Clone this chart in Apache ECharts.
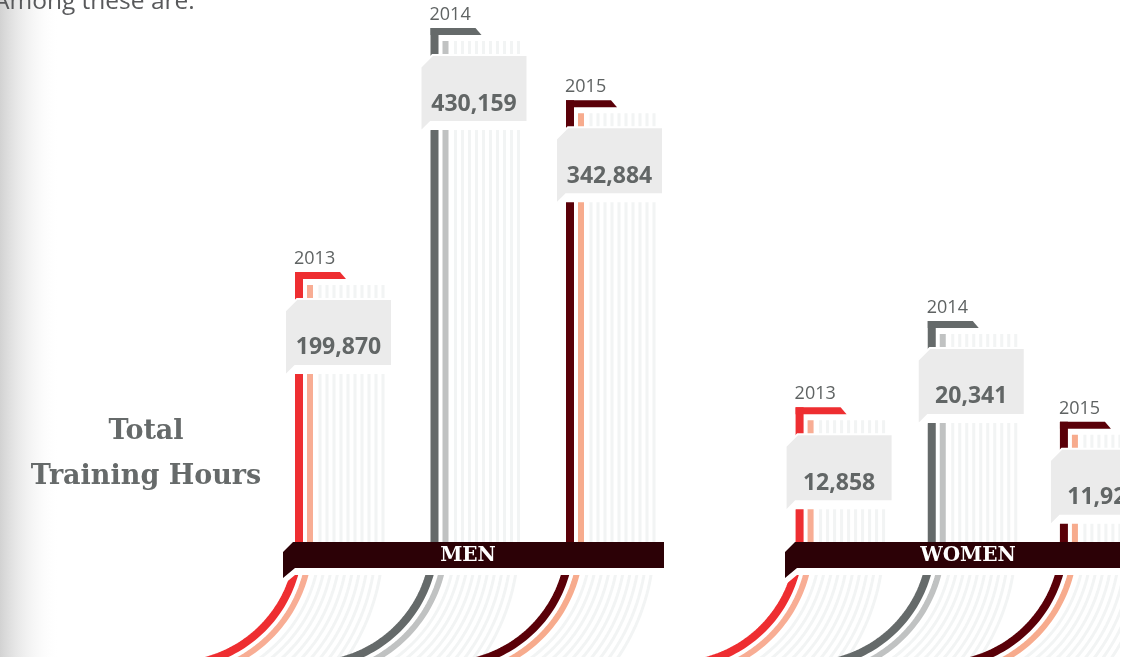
<!DOCTYPE html>
<html><head><meta charset="utf-8">
<script src="https://cdn.jsdelivr.net/npm/echarts@6/dist/echarts.min.js"></script>
<style>html,body{margin:0;padding:0;background:#fff}#c{width:1130px;height:657px}</style>
</head><body><div id="c"></div>
<script>
// ---- data ----
const years = ['2013', '2014', '2015'];
const menHours = [199870, 430159, 342884];
const womenHours = [12858, 20341, 11920];
const groupNames = ['MEN', 'WOMEN'];
const chartTitle = ['Total', 'Training Hours'];
const introText = 'Among these are:';

// ---- styles ----
const mainColors = ['#ee2e31', '#656a6a', '#5a0008'];
const secondColors = ['#f8ad94', '#c0c2c2', '#f7ab8d'];
const stripeColor = '#f2f4f4';
const boxColor = '#ebebeb';
const valueColor = '#626666';
const labelColor = '#666a6a';
const bannerColor = '#2c0106';
const MEN_RANGE = [84720, 469700];
const WOMEN_RANGE = [6194, 111700];

function fmt(v) { return v.toLocaleString('en-US'); }

function makeRender(yMin) {
  return function (params, api) {
    const i = api.value(0);
    const v = api.value(1);
    const p = api.coord([i, v]);
    const b = api.coord([i, yMin]);
    const xc = p[0];
    const T = p[1];
    const yc = b[1] - 5;
    const R = 125;
    const cx = xc - R;
    const x0 = xc - 4;
    const children = [];
    function line(d, yTop, w, color) {
      const x = xc + d;
      const r = R + d;
      const pts = [[x, yTop], [x, yc]];
      for (let k = 1; k <= 60; k++) {
        const t = k / 60 * Math.PI / 2;
        pts.push([cx + r * Math.cos(t), yc + r * Math.sin(t)]);
      }
      return { type: 'polyline', shape: { points: pts }, style: { stroke: color, lineWidth: w, fill: null, lineCap: 'butt' }, silent: true };
    }
    for (let k = 9; k >= 0; k--) children.push(line(21 + 7 * k, T + 13, 3, stripeColor));
    children.push(line(11, T + 13, 6, secondColors[i]));
    children.push(line(0, T, 8, mainColors[i]));
    children.push({ type: 'polygon', shape: { points: [[x0, T], [x0 + 45, T], [x0 + 51, T + 7], [x0, T + 7]] }, style: { fill: mainColors[i] } });
    children.push({ type: 'text', x: x0 - 1, y: T - 13, style: { text: years[i], fontFamily: 'Open Sans', fontSize: 18, fill: '#5f6363', align: 'left', verticalAlign: 'middle' } });
    const L = x0 - 10, BT = T + 27, BB = BT + 67, Rr = L + 107;
    const boxPts = [[L, BT + 12], [L + 12, BT], [Rr, BT], [Rr, BB], [L + 10, BB], [L, BB + 10]];
    children.push({ type: 'polygon', shape: { points: boxPts.map(q => [q[0], q[1] + 8]) }, style: { fill: '#ffffff' } });
    children.push({ type: 'polygon', shape: { points: boxPts }, style: { fill: boxColor, stroke: '#ffffff', lineWidth: 2 } });
    children.push({ type: 'text', x: L + 53.5, y: BT + 49, style: { text: fmt(v), fontFamily: 'Open Sans', fontWeight: 'bold', fontSize: 23, fill: valueColor, align: 'center', verticalAlign: 'middle' } });
    return { type: 'group', children: children };
  };
}

function banner(xl, xr, name, xText) {
  const pts = [[xl, 552], [xl + 10, 542], [xr, 542], [xr, 568], [xl + 12, 568], [xl, 578]];
  return [
    { type: 'polygon', z: 100, shape: { points: pts.map(q => [q[0], q[1] + 7]) }, style: { fill: '#ffffff' } },
    { type: 'polygon', z: 101, shape: { points: pts }, style: { fill: bannerColor } },
    { type: 'text', z: 102, x: xText, y: 556, style: { text: name, fontFamily: 'DejaVu Serif', fontWeight: 'bold', fontSize: 20, fill: '#ffffff', align: 'center', verticalAlign: 'middle' } }
  ];
}

const chart = echarts.init(document.getElementById('c'), null, { renderer: 'canvas' });
chart.setOption({
  animation: false,
  backgroundColor: '#ffffff',
  grid: [
    { left: 231.25, width: 406.5, top: 0, bottom: 112 },
    { left: 733.5, width: 399, top: 0, bottom: 112 }
  ],
  xAxis: [
    { type: 'category', gridIndex: 0, data: years, show: false },
    { type: 'category', gridIndex: 1, data: years, show: false }
  ],
  yAxis: [
    { type: 'log', gridIndex: 0, min: MEN_RANGE[0], max: MEN_RANGE[1], show: false },
    { type: 'log', gridIndex: 1, min: WOMEN_RANGE[0], max: WOMEN_RANGE[1], show: false }
  ],
  series: [
    { type: 'custom', xAxisIndex: 0, yAxisIndex: 0, clip: false, silent: true, renderItem: makeRender(MEN_RANGE[0]), data: menHours.map((v, i) => [years[i], v]) },
    { type: 'custom', xAxisIndex: 1, yAxisIndex: 1, clip: false, silent: true, renderItem: makeRender(WOMEN_RANGE[0]), data: womenHours.map((v, i) => [years[i], v]) }
  ],
  graphic: [
    { type: 'rect', z: -10, shape: { x: 0, y: 0, width: 60, height: 657 }, style: { fill: new echarts.graphic.LinearGradient(0, 0, 1, 0, [{ offset: 0, color: '#d2d2d2' }, { offset: 1, color: 'rgba(255,255,255,0)' }]) } },
    { type: 'text', z: 5, x: -6, y: 2, style: { text: introText, fontFamily: 'Open Sans', fontSize: 24.5, fill: '#58595b', align: 'left', verticalAlign: 'middle' } },
    { type: 'text', z: 5, x: 146, y: 432, style: { text: chartTitle[0], fontFamily: 'DejaVu Serif', fontWeight: 'bold', fontSize: 27, fill: labelColor, align: 'center', verticalAlign: 'middle' } },
    { type: 'text', z: 5, x: 146, y: 477, style: { text: chartTitle[1], fontFamily: 'DejaVu Serif', fontWeight: 'bold', fontSize: 27, fill: labelColor, align: 'center', verticalAlign: 'middle' } },
    ...banner(283, 664, groupNames[0], 468),
    ...banner(785, 1135, groupNames[1], 968),
    { type: 'rect', z: 200, shape: { x: 1120, y: 0, width: 20, height: 657 }, style: { fill: '#ffffff' } }
  ]
});
</script>
</body></html>
